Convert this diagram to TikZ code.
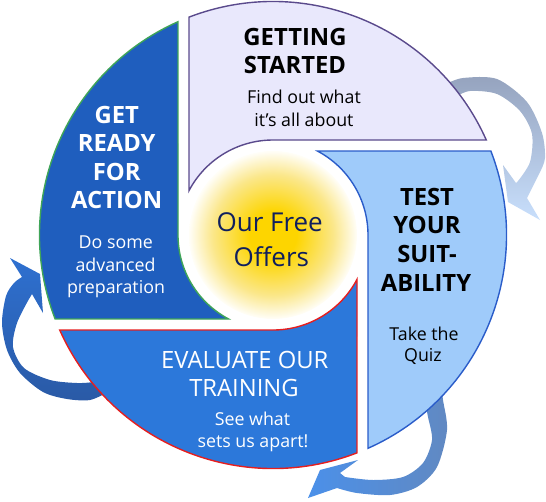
\documentclass[tikz,border=0pt]{standalone}
\usepackage{fontspec}
\setmainfont{Open Sans}
\usetikzlibrary{calc}
\definecolor{gsfill}{HTML}{E9E8FC}
\definecolor{gsline}{HTML}{5A4A8C}
\definecolor{tsfill}{HTML}{9FCBFA}
\definecolor{tsline}{HTML}{2A5CC9}
\definecolor{evfill}{HTML}{2C78DA}
\definecolor{evline}{HTML}{E61E1E}
\definecolor{grfill}{HTML}{1F5EBE}
\definecolor{grline}{HTML}{3FA558}
\definecolor{navy}{HTML}{0F1F5E}
\definecolor{sunA}{HTML}{FDD500}
\definecolor{sunB}{HTML}{FBE78A}
\definecolor{sunC}{HTML}{FFFEF8}
\definecolor{arAtail}{HTML}{95A3BE}
\definecolor{arAhead}{HTML}{C8DFFC}
\definecolor{arBtail}{HTML}{6189C2}
\definecolor{arBhead}{HTML}{4B90E9}
\definecolor{arChead}{HTML}{2E70D0}
\definecolor{arCtail}{HTML}{2A5AA6}
\pgfdeclareradialshading{sunshade}{\pgfpoint{0bp}{0bp}}{color(0bp)=(sunA); color(7bp)=(sunA); color(18bp)=(sunB); color(25bp)=(sunC); color(50bp)=(sunC)}
\newcommand{\cyclepiece}[3]{%
  \filldraw[fill=#2, draw=#3, line width=1.4pt, line join=miter]
  ($(C)+({-111.08+#1}:233.5)$) arc[start angle={-111.08+#1}, end angle={-24.01+#1}, radius=233.5]
  -- ($(C)+({-90+#1}:95)$) arc[start angle={-90+#1}, end angle={-152.16+#1}, radius=95] -- cycle;}
\begin{document}
\begin{tikzpicture}[x=1pt,y=-1pt,
  headtxt/.style={font=\bfseries\fontsize{23.8}{28}\selectfont, anchor=base, inner sep=0pt},
  evtxt/.style={font=\fontsize{23.8}{28}\selectfont, anchor=base, inner sep=0pt, text=white},
  subtxt/.style={font=\fontsize{17.8}{22}\selectfont, anchor=base, inner sep=0pt},
  suntxt/.style={font=\fontsize{26}{30}\selectfont, anchor=base, inner sep=0pt, text=navy}]
\useasboundingbox (0,0) rectangle (546,501);
\coordinate (C) at (273,235);
% curved arrows (behind the wheel)
\shade[top color=arAtail, bottom color=arAhead]
  plot[smooth] coordinates {(446,84) (463,78) (497,79) (527,102) (542,133) (545,158) (540,172)}
  -- (527,198) -- (540,220) -- (508,202) -- (503,165) -- (516,183)
  -- plot[smooth] coordinates {(518,181) (530,162) (532,134) (520,111) (497,94) (470,91) (455,97)} -- cycle;
\shade[left color=arBhead, right color=arBtail]
  plot[smooth] coordinates {(442,390) (443,400) (447,430) (437,467) (417,487) (390,495) (357,493) (337,488)}
  -- (308,498) -- (320,470) -- (358,460) -- (340,473)
  -- plot[smooth] coordinates {(345,477) (373,480) (403,477) (423,463) (432,440) (428,417) (425,402)} -- cycle;
\shade[top color=arChead, bottom color=arCtail]
  (10,258) -- (40,274) -- (43,313) -- (32,294)
  -- plot[smooth] coordinates {(29,299) (17,323) (13,347) (24,368) (50,380) (77,383) (94,382) (104,380)}
  -- plot[smooth] coordinates {(108,392) (90,400) (67,399) (43,392) (20,373) (7,350) (2,323) (6,296) (14,283) (22,277)} -- cycle;
% wheel pieces
\cyclepiece{0}{gsfill}{gsline}
\cyclepiece{90}{tsfill}{tsline}
\cyclepiece{180}{evfill}{evline}
\cyclepiece{270}{grfill}{grline}
% sun
\shade[shading=sunshade] (C) circle[radius=84];
% texts
\node[headtxt] (gs1) at (295,45) {GETTING};
\node[headtxt] (gs2) at (295,73.5) {STARTED};
\node[subtxt] (gs3) at (304,103.3) {Find out what};
\node[subtxt] (gs4) at (304,126) {it's all about};
\node[headtxt,text=white] (gr1) at (116.7,123.3) {GET};
\node[headtxt,text=white] (gr2) at (116.7,151.7) {READY};
\node[headtxt,text=white] (gr3) at (116.7,180) {FOR};
\node[headtxt,text=white] (gr4) at (116.7,208.5) {ACTION};
\node[subtxt,text=white] (gr5) at (115.8,248.3) {Do some};
\node[subtxt,text=white] (gr6) at (115.5,271) {advanced};
\node[subtxt,text=white] (gr7) at (116,293.5) {preparation};
\node[headtxt] (ts1) at (427,205) {TEST};
\node[headtxt] (ts2) at (427,233.8) {YOUR};
\node[headtxt] (ts3) at (427,262.5) {SUIT-};
\node[headtxt] (ts4) at (426,291.3) {ABILITY};
\node[subtxt] (ts5) at (424,340) {Take the};
\node[subtxt] (ts6) at (423,361.5) {Quiz};
\node[evtxt] (ev1) at (244.7,368.3) {EVALUATE OUR};
\node[evtxt] (ev2) at (244,396.7) {TRAINING};
\node[subtxt,text=white] (ev3) at (252.5,425) {See what};
\node[subtxt,text=white] (ev4) at (253,447) {sets us apart!};
\node[suntxt] (sun1) at (269.7,231.7) {Our Free};
\node[suntxt] (sun2) at (271.3,266.5) {Offers};
\end{tikzpicture}
\end{document}
